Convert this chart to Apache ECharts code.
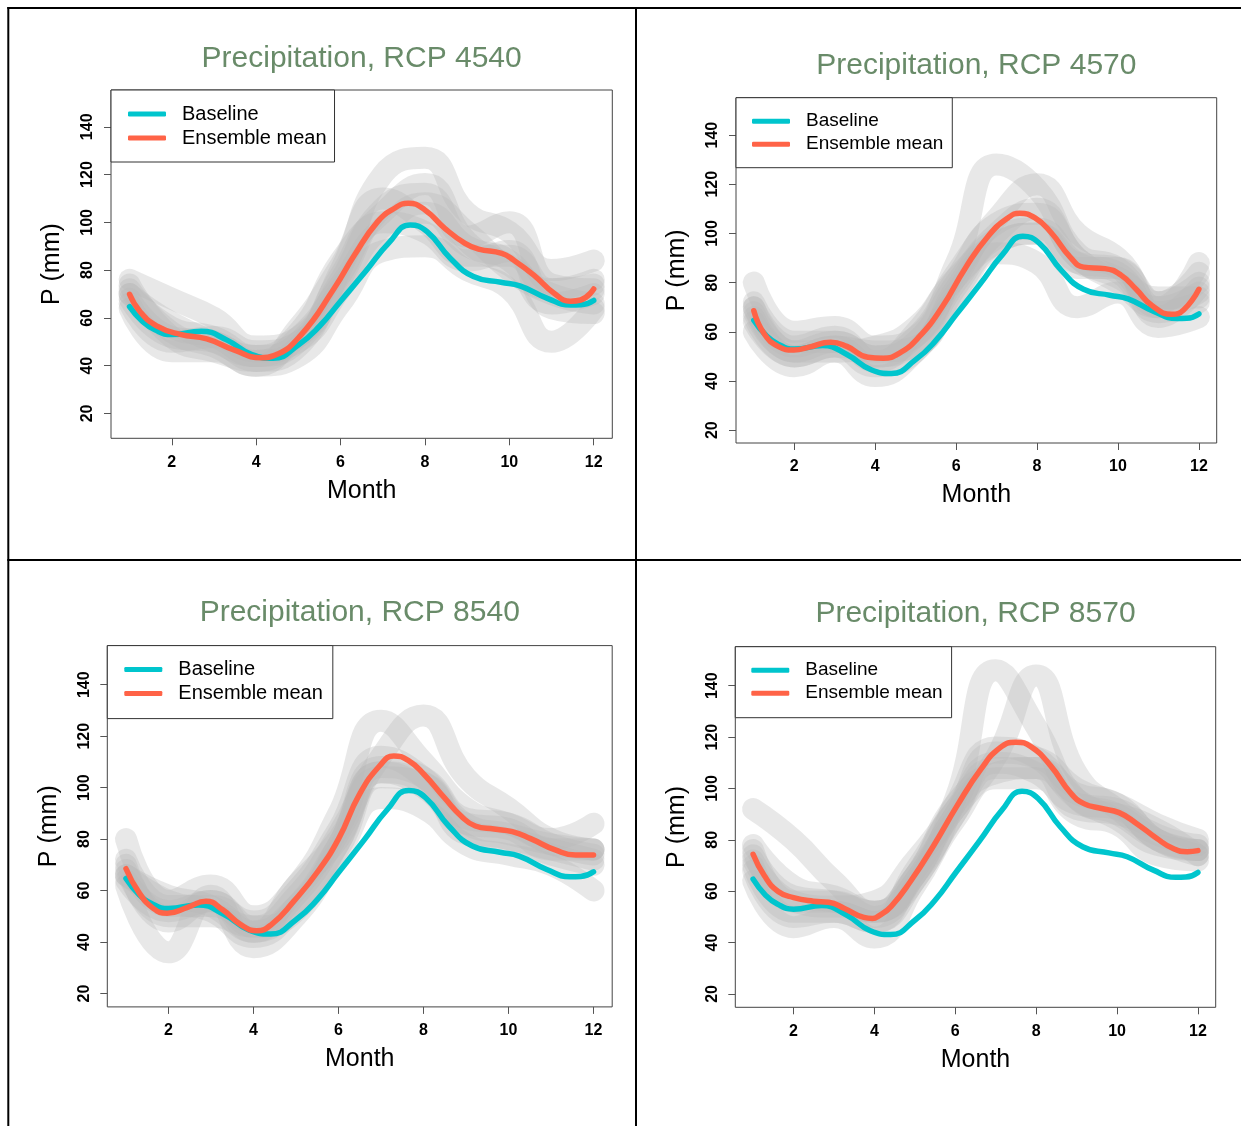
<!DOCTYPE html>
<html>
<head>
<meta charset="utf-8">
<script src="https://cdn.jsdelivr.net/npm/echarts@6/dist/echarts.min.js"></script>
<style>
html,body{margin:0;padding:0;background:#fff;}
#chart{width:1241px;height:1126px;}
</style>
</head>
<body>
<div id="chart"></div>
<script>
// ---------------- DATA ----------------
const months = [1, 2, 3, 4, 5, 6, 7, 8, 9, 10, 11, 12];
const xTicks = [2, 4, 6, 8, 10, 12];
const yTicks = [20, 40, 60, 80, 100, 120, 140];
const panelTitles = ['Precipitation, RCP 4540', 'Precipitation, RCP 4570', 'Precipitation, RCP 8540', 'Precipitation, RCP 8570'];
const legendNames = ['Baseline', 'Ensemble mean'];

// Baseline (same in all panels): [month, P mm]
const baseline = [[1, 64.7], [1.3, 58.6], [1.6, 55.0], [2, 53], [2.7, 54.4], [3.3, 50.8], [3.9, 44.6], [4.4, 43.1],
  [5, 48.7], [5.5, 56.5], [6, 67], [6.6, 79.6], [7.15, 91.5], [7.65, 98.9], [8.05, 96.1], [8.6, 85], [9.15, 77.3],
  [9.8, 74.9], [10.25, 73.4], [10.9, 68.2], [11.45, 65.4], [11.7, 65.5], [12, 67.3]];

// Ensemble means: [month, P mm]
const ensMean4540 = [[1, 69.9], [1.25, 62.6], [1.64, 56.7], [2.2, 53.1], [2.83, 51.2], [3.47, 46.6], [4.12, 43.3],
  [4.42, 44.2], [5.06, 52.8], [5.85, 72.4], [6.33, 86.3], [6.88, 100.3], [7.28, 105.9], [7.6, 108], [8.0, 105.2],
  [8.47, 97.5], [8.95, 91.2], [9.27, 88.8], [9.82, 87], [10.1, 84.2], [10.58, 77.9], [11.06, 70.3], [11.45, 67],
  [11.69, 67.5], [12, 72.1]];
const ensMean4570 = [[1, 68.6], [1.26, 59.1], [1.6, 54.1], [1.99, 52.6], [2.37, 53.8], [2.9, 55.8], [3.3, 54.1],
  [3.82, 49.7], [4.2, 49.3], [4.58, 51.1], [5.07, 57.7], [5.65, 70], [6.23, 86], [6.8, 99.1], [7.28, 106.3],
  [7.57, 108.2], [7.95, 106.3], [8.34, 100.5], [8.82, 90.4], [9.15, 86.3], [9.68, 85.7], [10.07, 83.1],
  [10.45, 77.3], [10.84, 70.7], [11.33, 67.1], [11.62, 68.9], [12, 77.3]];
const ensMean8540 = [[1, 68.5], [1.3, 59.4], [1.64, 53.1], [1.97, 51.2], [2.45, 53.5], [2.88, 55.9], [3.27, 52.6],
  [3.7, 46.8], [4.08, 44.4], [4.42, 46.8], [4.95, 55.9], [5.53, 67.8], [6.01, 80.4], [6.49, 97.3], [6.97, 108.5],
  [7.3, 112.3], [7.64, 110.6], [8.02, 105], [8.5, 95.9], [8.89, 88.9], [9.22, 85.1], [9.66, 83.9], [10.09, 82.9],
  [10.52, 80.2], [11.1, 75.8], [11.58, 73.8], [12, 73.8]];
const ensMean8570 = [[1, 74.4], [1.28, 66], [1.62, 59.9], [2, 57.5], [2.49, 56.1], [2.87, 55.7], [3.26, 53.3],
  [3.74, 49.8], [3.95, 49.4], [4.12, 50.5], [4.41, 54], [4.89, 63.8], [5.47, 77.9], [6.05, 93.4], [6.63, 107.4],
  [7.11, 115.9], [7.5, 118], [7.88, 116.2], [8.36, 108.8], [8.85, 98.3], [9.18, 94.1], [9.62, 92.2], [10.05, 90.6],
  [10.48, 86.4], [10.97, 80.7], [11.4, 76.5], [11.74, 75.4], [12, 75.8]];

// Individual ensemble members (monthly), estimated from the grey bands
const members4540 = [
  [76, 68, 60, 48, 52, 80, 120, 127, 104, 96, 80, 84],
  [64, 46, 46, 40, 44, 66, 88, 90, 80, 72, 50, 64],
  [70, 56, 52, 44, 50, 76, 106, 112, 94, 100, 74, 72],
  [68, 52, 50, 42, 52, 74, 98, 104, 90, 84, 66, 70],
  [72, 54, 48, 40, 56, 82, 110, 100, 86, 86, 72, 76],
  [66, 50, 52, 46, 50, 72, 96, 108, 96, 80, 70, 66],
  [70, 58, 50, 44, 54, 84, 104, 116, 92, 82, 72, 74],
  [74, 52, 46, 42, 48, 78, 100, 96, 84, 88, 64, 62]
];
const members4570 = [
  [80, 60, 62, 54, 58, 88, 128, 118, 92, 86, 70, 88],
  [60, 46, 52, 42, 52, 74, 92, 88, 70, 76, 62, 66],
  [70, 54, 58, 48, 60, 84, 106, 120, 100, 90, 72, 80],
  [66, 50, 54, 52, 54, 78, 98, 102, 88, 84, 68, 72],
  [72, 56, 56, 50, 58, 82, 104, 108, 90, 80, 70, 76],
  [64, 50, 54, 46, 52, 76, 96, 100, 86, 86, 66, 78],
  [68, 52, 56, 50, 56, 80, 100, 110, 90, 82, 74, 74],
  [70, 52, 52, 54, 62, 82, 96, 100, 88, 86, 72, 84]
];
const members8540 = [
  [80, 56, 62, 50, 62, 90, 126, 110, 92, 86, 80, 86],
  [62, 36, 58, 38, 50, 74, 96, 92, 78, 74, 70, 60],
  [70, 48, 56, 46, 58, 82, 112, 128, 104, 92, 80, 76],
  [66, 56, 52, 42, 54, 78, 106, 100, 84, 80, 74, 70],
  [72, 54, 54, 48, 60, 84, 112, 104, 86, 82, 78, 76],
  [64, 52, 56, 44, 54, 76, 104, 102, 82, 80, 76, 72],
  [68, 50, 50, 46, 52, 78, 108, 104, 88, 86, 78, 74],
  [66, 58, 54, 44, 62, 80, 106, 102, 86, 84, 76, 76]
];
const members8570 = [
  [92, 80, 64, 52, 64, 96, 146, 124, 96, 90, 80, 76],
  [64, 46, 50, 42, 62, 88, 104, 104, 90, 86, 74, 72],
  [72, 56, 54, 56, 72, 92, 112, 144, 106, 92, 82, 78],
  [70, 52, 52, 48, 64, 90, 108, 108, 92, 90, 84, 74],
  [76, 56, 56, 50, 66, 94, 116, 112, 96, 88, 78, 76],
  [68, 50, 52, 48, 68, 92, 110, 106, 94, 92, 80, 74],
  [74, 58, 56, 52, 66, 90, 114, 112, 100, 94, 86, 80],
  [78, 62, 58, 52, 66, 94, 106, 108, 98, 94, 80, 76]
];

// ---------------- LAYOUT / STYLE ----------------
const FONT = '"Liberation Sans", Arial, Helvetica, sans-serif';
const panelMeans = [ensMean4540, ensMean4570, ensMean8540, ensMean8570];
const panelMembers = [members4540, members4570, members8540, members8570];
const layout = [
  { left: 111, top: 90, width: 501.3, height: 348.3, ymin: 9.6, ymax: 155.4, titleTop: 44,
    legFont: 20, legPad: [14, 8, 14, 17], legTextPad: 11 },
  { left: 736, top: 97.7, width: 480.7, height: 345.3, ymin: 14.8, ymax: 155.2, titleTop: 51,
    legFont: 19, legPad: [14, 9, 14, 16], legTextPad: 11 },
  { left: 107.3, top: 645.6, width: 504.9, height: 361.3, ymin: 14.8, ymax: 155.2, titleTop: 598,
    legFont: 20, legPad: [14, 10, 15, 17], legTextPad: 11 },
  { left: 735.3, top: 646.7, width: 480.4, height: 360.6, ymin: 14.8, ymax: 155.2, titleTop: 599,
    legFont: 19, legPad: [14, 9, 15, 16], legTextPad: 11 }
];
const CYAN = '#00C5CD';
const RED = '#FF6347';
const GREY = 'rgba(185,185,185,0.32)';

const grids = [], xAxes = [], yAxes = [], titles = [], legends = [], series = [];
layout.forEach((p, i) => {
  grids.push({ left: p.left, top: p.top, width: p.width, height: p.height, show: true,
    borderColor: '#444', borderWidth: 1, backgroundColor: 'transparent', containLabel: false });
  xAxes.push({
    gridIndex: i, type: 'value', min: 0.56, max: 12.44,
    name: 'Month', nameLocation: 'middle', nameGap: 40,
    nameTextStyle: { fontSize: 25, color: '#000', fontFamily: FONT },
    axisLine: { show: false },
    axisTick: { show: true, length: 7, inside: false, customValues: xTicks, lineStyle: { color: '#555' } },
    axisLabel: { customValues: xTicks, margin: 16, fontSize: 16, fontWeight: 'bold', color: '#000', fontFamily: FONT },
    splitLine: { show: false }
  });
  yAxes.push({
    gridIndex: i, type: 'value', min: p.ymin, max: p.ymax,
    name: 'P (mm)', nameLocation: 'middle', nameRotate: 90, nameGap: 46,
    nameTextStyle: { fontSize: 25, color: '#000', fontFamily: FONT },
    axisLine: { show: false },
    axisTick: { show: true, length: 7, inside: false, customValues: yTicks, lineStyle: { color: '#555' } },
    axisLabel: { customValues: yTicks, rotate: 90, margin: 15, fontSize: 16, fontWeight: 'bold', color: '#000', fontFamily: FONT },
    splitLine: { show: false }
  });
  titles.push({
    text: panelTitles[i], left: p.left + p.width / 2, top: p.titleTop, textAlign: 'center', padding: 0,
    textStyle: { fontSize: 30, fontWeight: 'normal', color: '#698B69', fontFamily: FONT }
  });
  legends.push({
    data: legendNames, orient: 'vertical', left: p.left, top: p.top,
    icon: 'roundRect', itemWidth: 38, itemHeight: 5, itemGap: 4,
    padding: p.legPad, borderColor: '#333', borderWidth: 1, borderRadius: 0,
    backgroundColor: '#fff', selectedMode: false,
    textStyle: { fontSize: p.legFont, color: '#000', fontFamily: FONT, padding: [0, 0, 0, p.legTextPad] }
  });
  panelMembers[i].forEach(m => {
    series.push({
      type: 'line', xAxisIndex: i, yAxisIndex: i, silent: true, z: 1,
      data: months.map((x, k) => [x, m[k]]), smooth: true, symbol: 'none', showSymbol: false,
      lineStyle: { width: 22, color: GREY, cap: 'round', join: 'round' }, clip: true
    });
  });
  series.push({
    name: 'Baseline', type: 'line', xAxisIndex: i, yAxisIndex: i, z: 3,
    data: baseline, smooth: true, symbol: 'none', showSymbol: false,
    itemStyle: { color: CYAN }, lineStyle: { width: 5.5, color: CYAN, cap: 'round', join: 'round' }
  });
  series.push({
    name: 'Ensemble mean', type: 'line', xAxisIndex: i, yAxisIndex: i, z: 4,
    data: panelMeans[i], smooth: true, symbol: 'none', showSymbol: false,
    itemStyle: { color: RED }, lineStyle: { width: 5.5, color: RED, cap: 'round', join: 'round' }
  });
});

const border = { stroke: '#000', lineWidth: 2 };
const graphic = [
  { type: 'line', shape: { x1: 8.3, y1: 7, x2: 8.3, y2: 1126 }, style: border, z: 100 },
  { type: 'line', shape: { x1: 7.3, y1: 8, x2: 1241, y2: 8 }, style: border, z: 100 },
  { type: 'line', shape: { x1: 636, y1: 7, x2: 636, y2: 1126 }, style: border, z: 100 },
  { type: 'line', shape: { x1: 7.3, y1: 560, x2: 1241, y2: 560 }, style: border, z: 100 }
];

const chart = echarts.init(document.getElementById('chart'), null, { renderer: 'canvas' });
chart.setOption({
  backgroundColor: '#fff',
  animation: false,
  title: titles,
  legend: legends,
  grid: grids,
  xAxis: xAxes,
  yAxis: yAxes,
  series: series,
  graphic: graphic
});
</script>
</body>
</html>
